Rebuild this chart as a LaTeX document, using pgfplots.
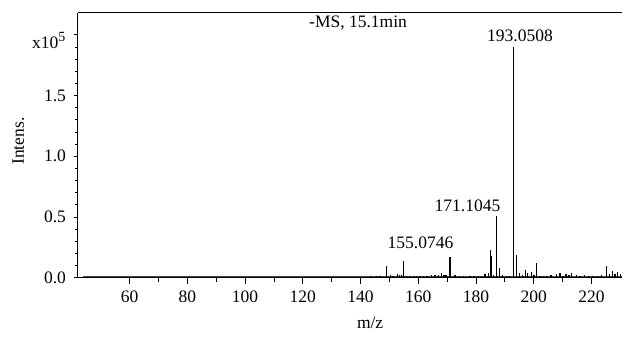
\documentclass[border=0pt]{standalone}
\usepackage{fontspec}
\setmainfont{Liberation Serif}
\usepackage{pgfplots}
\pgfplotsset{compat=1.18}
\pgfplotstableread{
mz h
96.7 0.008
110.7 0.009
125.0 0.006
127.0 0.006
129.0 0.006
131.0 0.006
133.5 0.008
134.5 0.008
135.5 0.008
136.5 0.008
137.5 0.008
138.5 0.008
139.5 0.008
140.5 0.008
141.5 0.008
142.5 0.008
143.5 0.010
144.5 0.008
145.5 0.012
146.7 0.010
148.9 0.100
150.4 0.020
151.3 0.015
152.7 0.030
153.4 0.025
154.2 0.020
154.9 0.135
156.0 0.015
156.9 0.010
158.3 0.012
159.4 0.010
160.6 0.010
161.7 0.012
163.0 0.010
164.6 0.020
165.8 0.025
166.9 0.020
168.1 0.035
168.9 0.025
169.6 0.020
171.0 0.170
172.7 0.025
174.4 0.015
175.6 0.010
177.9 0.010
179.3 0.015
180.8 0.015
182.0 0.010
183.1 0.030
184.3 0.040
185.1 0.230
185.4 0.180
186.0 0.025
187.2 0.510
188.1 0.080
189.2 0.020
190.5 0.015
191.6 0.015
193.05 1.900
194.1 0.190
195.2 0.040
196.2 0.020
197.2 0.060
197.9 0.040
199.2 0.050
200.1 0.020
201.0 0.120
202.2 0.015
203.3 0.015
204.5 0.010
206.0 0.020
207.9 0.030
209.1 0.040
210.2 0.015
211.2 0.030
212.2 0.020
213.2 0.035
214.9 0.025
216.0 0.015
217.5 0.020
219.0 0.015
220.5 0.010
222.0 0.015
223.5 0.020
225.3 0.095
226.2 0.030
227.3 0.055
228.2 0.030
229.0 0.050
230.0 0.030
}\peaks
\begin{document}
\fontsize{17.5}{21}\selectfont
\begin{tikzpicture}
\begin{axis}[
  scale only axis, width=544pt, height=264.7pt,
  xmin=42.1, xmax=230.6, ymin=0, ymax=2.18,
  axis x line*=box, axis y line*=left,
  axis line style={-, line width=1pt, black},
  tick pos=left, tick align=outside,
  tick style={black, line width=0.9pt},
  major tick length=4pt, minor tick length=2.5pt,
  xtick style={/pgfplots/major tick length=6.5pt, /pgfplots/minor tick length=4.5pt},
  xtick={60,80,...,220}, minor x tick num=1,
  ytick={0,0.5,1,1.5,2}, yticklabels={0.0,0.5,1.0,1.5,{}},
  minor y tick num=4,
  /pgf/number format/assume math mode=true,
  ticklabel style={font=\fontsize{17.5}{21}\selectfont},
  xticklabel style={yshift=-3pt},
  yticklabel style={xshift=-2pt},
  xlabel={m/z}, ylabel={Intens.},
  every axis x label/.style={at={(axis description cs:0.537,-0.171)}, anchor=center},
  every axis y label/.style={at={(axis description cs:-0.110,0.516)}, anchor=center, rotate=90},
  clip=false,
]
\addplot[gray!55!black, line width=1.3pt] coordinates {(43.8,0.009) (230.6,0.009)};
\addplot[ycomb, black, line width=1.3pt, mark=none] table[x=mz, y=h] {\peaks};
\node[anchor=base east] at (axis description cs:-0.011,0.867) {x10\textsuperscript{\fontsize{14}{16}\selectfont 5}};
\node[anchor=base west] at (axis description cs:0.414,0.947) {-MS, 15.1min};
\node[anchor=base] at (axis description cs:0.8125,0.8916) {193.0508};
\node[anchor=base] at (axis description cs:0.716,0.249) {171.1045};
\node[anchor=base] at (axis description cs:0.6296,0.111) {155.0746};
\end{axis}
\pgfresetboundingbox
\path (-78pt,-64.3pt) rectangle (547pt,277.7pt);
\end{tikzpicture}
\end{document}
